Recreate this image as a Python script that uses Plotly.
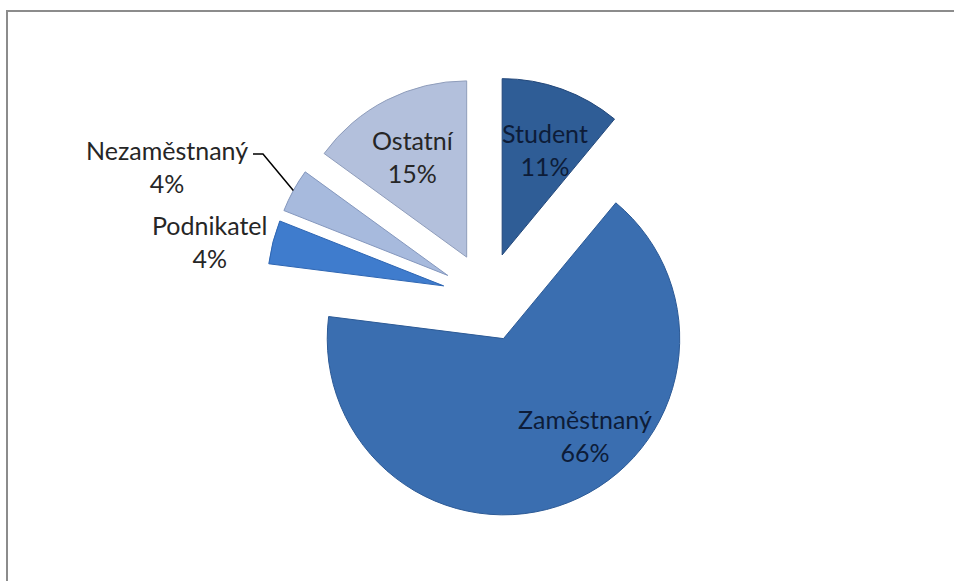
import math
import plotly.graph_objects as go

# Occupation breakdown (share of respondents, %)
categories = ["Student", "Zaměstnaný", "Podnikatel", "Nezaměstnaný", "Ostatní"]
shares = [11, 66, 4, 4, 15]

slice_colors = ["#2f5d96", "#3a6eb0", "#3f7ccd", "#a7badd", "#b3c0dc"]
edge_colors = ["#22477a", "#2c5a96", "#2e66b3", "#8497bd", "#8f9dbb"]

W, H = 954, 581
CX, CY = 487, 297        # pie centre, pixels from top-left
HALF = 221               # half side of the square pie domain, pixels
PULL = 0.254             # explode distance as a fraction of the radius


def px(x):
    return x / W


def py(y):
    return 1 - y / H


fig = go.Figure(
    go.Pie(
        labels=categories,
        values=shares,
        sort=False,
        direction="clockwise",
        rotation=0,
        pull=[PULL] * len(shares),
        marker=dict(colors=slice_colors, line=dict(color=edge_colors, width=1)),
        textinfo="none",
        hoverinfo="skip",
        showlegend=False,
        domain=dict(x=[px(CX - HALF), px(CX + HALF)], y=[py(CY + HALF), py(CY - HALF)]),
    )
)

# Label block centres (pixels)
label_pos = {
    "Student": (545, 149),
    "Zaměstnaný": (585, 435),
    "Podnikatel": (209, 241),
    "Nezaměstnaný": (167, 167),
    "Ostatní": (413, 156),
}
label_color = {
    "Student": "#0d1c38",
    "Zaměstnaný": "#0d1c38",
    "Podnikatel": "#262626",
    "Nezaměstnaný": "#262626",
    "Ostatní": "#262626",
}

for cat, val in zip(categories, shares):
    x, y = label_pos[cat]
    fig.add_annotation(
        x=px(x), y=py(y), xref="paper", yref="paper",
        text=f"{cat}<br>{val}%", showarrow=False,
        xanchor="center", yanchor="middle", align="center",
        font=dict(family="Lato, 'Open Sans', sans-serif", size=25, color=label_color[cat]),
    )

# Leader line from the "Nezaměstnaný" label to the outer edge of its slice
total = sum(shares)
idx = categories.index("Nezaměstnaný")
mid_deg = (sum(shares[:idx]) + shares[idx] / 2) / total * 360
radius = 2 * HALF / (2 + 2 * PULL)
reach = radius * (1 + PULL)
tip_x = CX + reach * math.sin(math.radians(mid_deg))
tip_y = CY - reach * math.cos(math.radians(mid_deg))
fig.add_shape(
    type="path", xref="paper", yref="paper",
    path=f"M {px(253)} {py(154)} L {px(263)} {py(154)} L {px(tip_x)} {py(tip_y)}",
    line=dict(color="#000000", width=1.5),
)

# Chart frame: only the top and left edges fall inside the view
fig.add_shape(
    type="path", xref="paper", yref="paper",
    path=f"M {px(7)} -0.05 L {px(7)} {py(11)} L 1.05 {py(11)}",
    line=dict(color="#8c8c8c", width=2),
)

fig.update_layout(
    width=W, height=H,
    margin=dict(l=0, r=0, t=0, b=0),
    paper_bgcolor="#ffffff",
    plot_bgcolor="#ffffff",
)

fig.write_html("out.html")
